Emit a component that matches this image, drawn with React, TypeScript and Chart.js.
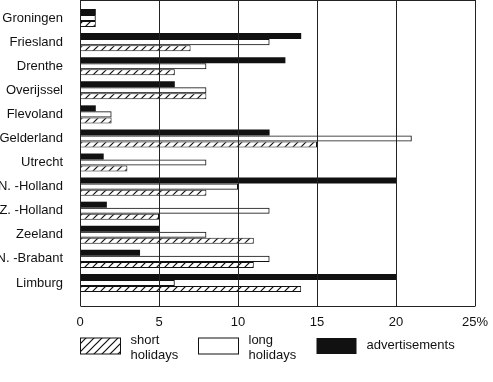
import React, { useEffect, useRef } from "react";
import { Chart, registerables } from "chart.js";

Chart.register(...registerables);

const categories = [
  "Groningen",
  "Friesland",
  "Drenthe",
  "Overijssel",
  "Flevoland",
  "Gelderland",
  "Utrecht",
  "N. -Holland",
  "Z. -Holland",
  "Zeeland",
  "N. -Brabant",
  "Limburg",
];
const advertisements = [1, 14, 13, 6, 1, 12, 1.5, 20, 1.7, 5, 3.8, 20];
const longHolidays = [1, 12, 8, 8, 2, 21, 8, 10, 12, 8, 12, 6];
const shortHolidays = [1, 7, 6, 8, 2, 15, 3, 8, 5, 11, 11, 14];
const xTicks = [0, 5, 10, 15, 20, 25];
const xTickLabels = ["0", "5", "10", "15", "20", "25%"];

const FONT = "'Liberation Sans', Arial, Helvetica, sans-serif";
const INK = "#111";

function makeHatch(): CanvasPattern | string {
  const c = document.createElement("canvas");
  c.width = 8;
  c.height = 8;
  const g = c.getContext("2d");
  if (!g) return "#fff";
  g.fillStyle = "#fff";
  g.fillRect(0, 0, 8, 8);
  g.strokeStyle = INK;
  g.lineWidth = 1.2;
  g.beginPath();
  g.moveTo(0, 8);
  g.lineTo(8, 0);
  g.moveTo(-1, 1);
  g.lineTo(1, -1);
  g.moveTo(7, 9);
  g.lineTo(9, 7);
  g.stroke();
  const p = g.createPattern(c, "repeat");
  return p || "#fff";
}

function zeroPad(scale: any) {
  scale.paddingTop = 0;
  scale.paddingBottom = 0;
  scale.paddingLeft = 0;
  scale.paddingRight = 0;
}

export default function App() {
  const ref = useRef<HTMLCanvasElement | null>(null);

  useEffect(() => {
    if (!ref.current) return;
    const hatch = makeHatch();

    const framePlugin = {
      id: "frame",
      afterDatasetsDraw(chart: any) {
        const { ctx, chartArea, scales } = chart;
        const top = chartArea.top - 6;
        const bottom = chartArea.bottom + 11;
        const xs = scales.x;
        ctx.save();
        ctx.strokeStyle = "#222";
        ctx.lineWidth = 1;
        xTicks.forEach((v) => {
          const px = Math.round(xs.getPixelForValue(v)) + 0.5;
          ctx.beginPath();
          ctx.moveTo(px, top);
          ctx.lineTo(px, bottom);
          ctx.stroke();
        });
        const l = Math.round(xs.getPixelForValue(0)) + 0.5;
        const r = Math.round(xs.getPixelForValue(25)) + 0.5;
        ctx.beginPath();
        ctx.moveTo(l, Math.round(top) + 0.5);
        ctx.lineTo(r, Math.round(top) + 0.5);
        ctx.moveTo(l, Math.round(bottom) + 0.5);
        ctx.lineTo(r, Math.round(bottom) + 0.5);
        ctx.stroke();

        // legend
        const legendTop = bottom + 32;
        const items = [
          { fill: hatch, border: true, lines: ["short", "holidays"], dx: 0 },
          { fill: "#fff", border: true, lines: ["long", "holidays"], dx: 118 },
          { fill: INK, border: false, lines: ["advertisements"], dx: 236 },
        ];
        ctx.font = `13px ${FONT}`;
        ctx.textBaseline = "middle";
        ctx.textAlign = "left";
        items.forEach((it) => {
          const bx = l + it.dx;
          ctx.fillStyle = it.fill as any;
          ctx.fillRect(bx, legendTop, 40, 16);
          if (it.border) {
            ctx.strokeStyle = INK;
            ctx.strokeRect(bx, legendTop, 40, 16);
          }
          ctx.fillStyle = INK;
          const tx = bx + 50;
          if (it.lines.length === 2) {
            ctx.fillText(it.lines[0], tx, legendTop + 2);
            ctx.fillText(it.lines[1], tx, legendTop + 17);
          } else {
            ctx.fillText(it.lines[0], tx, legendTop + 7);
          }
        });
        ctx.restore();
      },
    };

    const chart = new Chart(ref.current, {
      type: "bar",
      data: {
        labels: categories,
        datasets: [
          {
            label: "advertisements",
            data: advertisements,
            backgroundColor: INK,
            borderWidth: 0,
          },
          {
            label: "long holidays",
            data: longHolidays,
            backgroundColor: "rgba(255,255,255,0)",
            borderColor: INK,
            borderWidth: 1,
          },
          {
            label: "short holidays",
            data: shortHolidays,
            backgroundColor: hatch as any,
            borderColor: INK,
            borderWidth: 1,
          },
        ],
      },
      options: {
        indexAxis: "y",
        animation: false,
        responsive: true,
        maintainAspectRatio: false,
        datasets: {
          bar: { categoryPercentage: 0.75, barPercentage: 1 },
        },
        layout: { padding: { top: 6, right: 18, left: 0, bottom: 0 } },
        plugins: {
          legend: { display: false },
          tooltip: { enabled: false },
        },
        scales: {
          x: {
            type: "linear",
            min: 0,
            max: 25,
            grid: { display: false, drawTicks: false },
            border: { display: false },
            afterBuildTicks: (scale: any) => {
              scale.ticks = xTicks.map((v) => ({ value: v }));
            },
            afterFit: (scale: any) => {
              scale.height = 87;
              zeroPad(scale);
            },
            ticks: {
              padding: 20,
              color: INK,
              font: { family: FONT, size: 13 },
              maxRotation: 0,
              callback: (v: any) => {
                const i = xTicks.indexOf(Number(v));
                return i >= 0 ? xTickLabels[i] : "";
              },
            },
          },
          y: {
            type: "category",
            grid: { display: false, drawTicks: false },
            border: { display: false },
            afterFit: (scale: any) => {
              scale.width = 80;
              zeroPad(scale);
            },
            ticks: {
              padding: 17,
              color: INK,
              font: { family: FONT, size: 13 },
            },
          },
        },
      },
      plugins: [framePlugin],
    });
    return () => chart.destroy();
  }, []);

  return (
    <div
      style={{
        position: "fixed",
        left: 0,
        top: 0,
        width: 493,
        height: 382,
        background: "#fff",
      }}
    >
      <canvas ref={ref} />
    </div>
  );
}
